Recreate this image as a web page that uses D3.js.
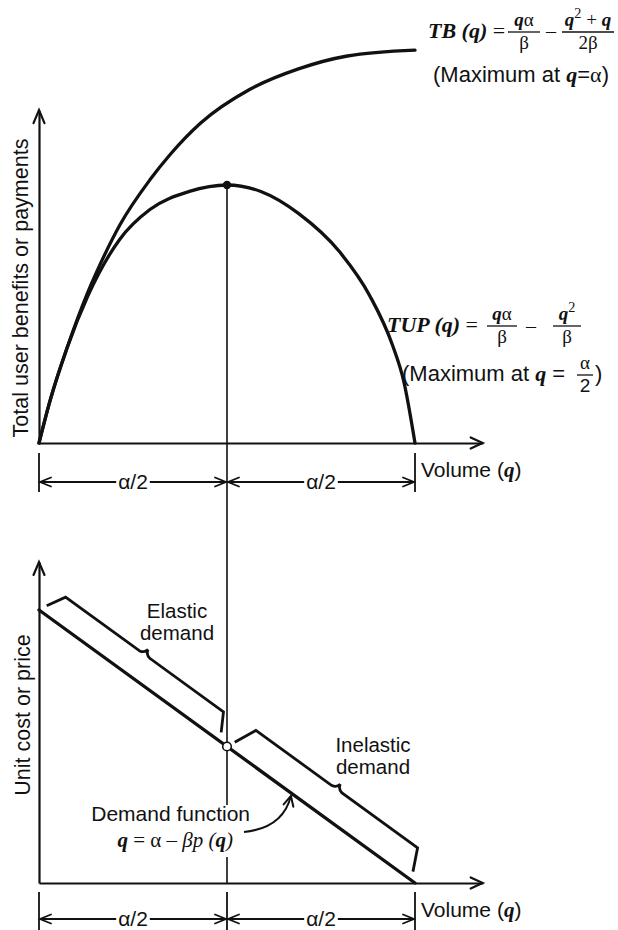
<!DOCTYPE html>
<html>
<head>
<meta charset="utf-8">
<script src="https://cdn.jsdelivr.net/npm/d3@7"></script>
<style>
  html, body { margin: 0; padding: 0; background: #fff; }
  svg { display: block; }
  .sans { font-family: "Liberation Sans", Arial, Helvetica, sans-serif; }
  .serif { font-family: "Liberation Serif", "Times New Roman", serif; }
  .bi { font-family: "Liberation Serif", "Times New Roman", serif; font-weight: bold; font-style: italic; }
  .it { font-family: "Liberation Serif", "Times New Roman", serif; font-style: italic; }
</style>
</head>
<body>
<svg id="chart" width="618" height="930"></svg>
<script>
// Volume q in units of α; benefits/payments scaled so that TUP peaks at 1.
const tupQ = [0, 0.03, 0.075, 0.13, 0.215, 0.295, 0.40, 0.50, 0.59, 0.69, 0.80, 0.88, 0.94, 0.97, 1.0];
const tupV = [0, 0.167, 0.37, 0.57, 0.79, 0.905, 0.975, 1.0, 0.975, 0.89, 0.74, 0.57, 0.38, 0.24, 0];
const tbQ = [0, 0.03, 0.075, 0.13, 0.165, 0.215, 0.295, 0.35, 0.43, 0.56, 0.69, 0.82, 1.0];
const tbV = [0, 0.167, 0.37, 0.585, 0.70, 0.845, 1.02, 1.12, 1.24, 1.37, 1.45, 1.50, 1.523];
// Demand function: unit price (1 at q = 0) against volume
const demandQ = [0, 1];
const demandP = [1, 0];
const peakQ = 0.5;                 // α/2
const dimQ = [0, 0.5, 1];          // dimension breakpoints 0, α/2, α
const dimLabels = ["α/2", "α/2"];
const elasticRange = [0.008, 0.472];
const inelasticRange = [0.508, 0.982];
const axisLabelTop = "Total user benefits or payments";
const axisLabelBottom = "Unit cost or price";
const xAxisLabel = "Volume";

const svg = d3.select("#chart");
const ink = "#111";

const x = d3.scaleLinear().domain([0, 1]).range([39, 415]);
const xMax = 1.18;
const yTop = d3.scaleLinear().domain([0, 1]).range([443, 185]);
const yTopMax = 1.29;
const yBot = d3.scaleLinear().domain([0, 1]).range([883, 610]);
const yBotMax = 1.176;

// open chevron arrowhead with its tip at (tx, ty) pointing along (dx, dy)
function chevron(g, tx, ty, dx, dy, len, half, sw) {
  const m = Math.hypot(dx, dy), ux = dx / m, uy = dy / m;
  const bx = tx - ux * len, by = ty - uy * len;
  g.append("path")
    .attr("d", `M${bx - uy * half},${by + ux * half}L${tx},${ty}L${bx + uy * half},${by - ux * half}`)
    .attr("fill", "none").attr("stroke", ink).attr("stroke-width", sw)
    .attr("stroke-linejoin", "miter").attr("stroke-linecap", "round");
}

function axes(yScale, yMaxVal) {
  const g = svg.append("g");
  const xs = d3.scaleLinear().domain([0, xMax]).range([x(0), x(xMax)]);
  g.append("g").attr("transform", `translate(0,${yScale(0)})`)
    .call(d3.axisBottom(xs).tickValues([]).tickSizeOuter(0))
    .select(".domain").attr("stroke", ink).attr("stroke-width", 2.2);
  const ys = d3.scaleLinear().domain([0, yMaxVal]).range([yScale(0), yScale(yMaxVal)]);
  g.append("g").attr("transform", `translate(${x(0)},0)`)
    .call(d3.axisLeft(ys).tickValues([]).tickSizeOuter(0))
    .select(".domain").attr("stroke", ink).attr("stroke-width", 2.2);
  chevron(g, x(xMax), yScale(0), 1, 0, 12, 5.5, 2.2);
  chevron(g, x(0), yScale(yMaxVal), 0, -1, 13, 5.5, 2.2);
}

axes(yTop, yTopMax);
axes(yBot, yBotMax);

// ---------- upper panel: TB and TUP curves ----------
const curveTop = d3.line().x(d => x(d[0])).y(d => yTop(d[1])).curve(d3.curveMonotoneX);
svg.append("path").datum(d3.zip(tbQ, tbV)).attr("d", curveTop)
  .attr("fill", "none").attr("stroke", ink).attr("stroke-width", 3.3).attr("stroke-linecap", "round");
svg.append("path").datum(d3.zip(tupQ, tupV)).attr("d", curveTop)
  .attr("fill", "none").attr("stroke", ink).attr("stroke-width", 3.3).attr("stroke-linecap", "round");

const peakV = tupV[tupQ.indexOf(peakQ)];
// guide line down from the TUP maximum through the lower panel
svg.append("line").attr("x1", x(peakQ)).attr("x2", x(peakQ))
  .attr("y1", yTop(peakV)).attr("y2", 805).attr("stroke", ink).attr("stroke-width", 1.6);
svg.append("line").attr("x1", x(peakQ)).attr("x2", x(peakQ))
  .attr("y1", 857).attr("y2", yBot(0)).attr("stroke", ink).attr("stroke-width", 1.6);
svg.append("circle").attr("cx", x(peakQ)).attr("cy", yTop(peakV)).attr("r", 4.2).attr("fill", ink);

// ---------- lower panel: demand line ----------
const demandLine = d3.line().x(d => x(d[0])).y(d => yBot(d[1]));
svg.append("path").datum(d3.zip(demandQ, demandP)).attr("d", demandLine)
  .attr("fill", "none").attr("stroke", ink).attr("stroke-width", 3.3).attr("stroke-linecap", "round");

// point on (or offset perpendicular from) the demand line
const P0 = [x(demandQ[0]), yBot(demandP[0])], P1 = [x(demandQ[1]), yBot(demandP[1])];
const dLen = Math.hypot(P1[0] - P0[0], P1[1] - P0[1]);
const u = [(P1[0] - P0[0]) / dLen, (P1[1] - P0[1]) / dLen];
const nrm = [u[1], -u[0]];
function onDemand(q, off) {
  return [P0[0] + u[0] * dLen * q + nrm[0] * off, P0[1] + u[1] * dLen * q + nrm[1] * off];
}
function bracket(range, off) {
  const [q0, q1] = range, qm = (q0 + q1) / 2, e = 0.022;
  const p = (q, o) => onDemand(q, o).join(",");
  const d = `M${p(q0, 8)}L${p(q0 + e, off)}L${p(qm - 0.014, off)}` +
    `Q${p(qm - 0.002, off + 1)} ${p(qm, off + 6)}` +
    `Q${p(qm + 0.002, off + 1)} ${p(qm + 0.014, off)}` +
    `L${p(q1 - e, off)}L${p(q1, 8)}`;
  svg.append("path").attr("d", d).attr("fill", "none").attr("stroke", ink)
    .attr("stroke-width", 2.8).attr("stroke-linejoin", "miter");
}
bracket(elasticRange, 26);
bracket(inelasticRange, 30);

svg.append("circle").attr("cx", x(peakQ)).attr("cy", yBot(d3.interpolateNumber(demandP[0], demandP[1])(peakQ)))
  .attr("r", 4.3).attr("fill", "#fff").attr("stroke", ink).attr("stroke-width", 1.6);

// curved pointer from the demand-function label to the line
const tipPt = onDemand(0.67, 0);
const ctrl = [tipPt[0] - 8, tipPt[1] + 35];
svg.append("path").attr("d", `M244,832Q${ctrl[0]},${ctrl[1]} ${tipPt[0]},${tipPt[1] + 3}`)
  .attr("fill", "none").attr("stroke", ink).attr("stroke-width", 2);
chevron(svg, tipPt[0], tipPt[1] + 3, tipPt[0] - ctrl[0], tipPt[1] + 3 - ctrl[1], 10, 5, 2);

// ---------- dimension lines ----------
function dimension(yLine, tickTop, tickBot) {
  const g = svg.append("g");
  dimQ.forEach((q, i) => {
    if (i === 1 && tickTop < yTop(0) + 20) return; // the guide line already crosses here
    g.append("line").attr("x1", x(q)).attr("x2", x(q)).attr("y1", tickTop).attr("y2", tickBot)
      .attr("stroke", ink).attr("stroke-width", 1.8);
  });
  for (let i = 0; i < dimQ.length - 1; i++) {
    const a = x(dimQ[i]), b = x(dimQ[i + 1]), c = (a + b) / 2;
    const t = g.append("text").attr("class", "sans").attr("x", c).attr("y", yLine + 7)
      .attr("text-anchor", "middle").attr("font-size", 21).attr("fill", ink).text(dimLabels[i]);
    const w = t.node().getComputedTextLength() / 2 + 2;
    g.append("line").attr("x1", a + 1).attr("x2", c - w).attr("y1", yLine).attr("y2", yLine)
      .attr("stroke", ink).attr("stroke-width", 1.8);
    g.append("line").attr("x1", c + w).attr("x2", b - 1).attr("y1", yLine).attr("y2", yLine)
      .attr("stroke", ink).attr("stroke-width", 1.8);
    chevron(g, a + 1, yLine, -1, 0, 11, 4.5, 1.8);
    chevron(g, b - 1, yLine, 1, 0, 11, 4.5, 1.8);
  }
}
dimension(482, 453, 492);
dimension(919, 892, 930);

// ---------- text ----------
function volumeLabel(yb) {
  const t = svg.append("text").attr("x", 421).attr("y", yb).attr("font-size", 21).attr("fill", ink);
  t.append("tspan").attr("class", "sans").text(xAxisLabel + " (");
  t.append("tspan").attr("class", "bi").text("q");
  t.append("tspan").attr("class", "sans").text(")");
}
volumeLabel(477);
volumeLabel(917);

svg.append("text").attr("class", "sans").attr("transform", "translate(28,288) rotate(-90)")
  .attr("text-anchor", "middle").attr("font-size", 21.5).attr("fill", ink).text(axisLabelTop);
svg.append("text").attr("class", "sans").attr("transform", "translate(30,715) rotate(-90)")
  .attr("text-anchor", "middle").attr("font-size", 21.5).attr("fill", ink).text(axisLabelBottom);

function twoLine(cx, yb, lines, gap) {
  lines.forEach((s, i) => svg.append("text").attr("class", "sans").attr("x", cx).attr("y", yb + i * gap)
    .attr("text-anchor", "middle").attr("font-size", 20.5).attr("fill", ink).text(s));
}
twoLine(177, 618, ["Elastic", "demand"], 22);
twoLine(373, 752, ["Inelastic", "demand"], 22);

// demand function label
svg.append("text").attr("class", "sans").attr("x", 250).attr("y", 821).attr("text-anchor", "end")
  .attr("font-size", 21).attr("fill", ink).text("Demand function");
{
  const t = svg.append("text").attr("x", 233).attr("y", 847).attr("text-anchor", "end")
    .attr("font-size", 21).attr("fill", ink);
  t.append("tspan").attr("class", "bi").text("q");
  t.append("tspan").attr("class", "serif").text(" = α – ");
  t.append("tspan").attr("class", "it").text("βp");
  t.append("tspan").attr("class", "it").text(" (");
  t.append("tspan").attr("class", "bi").text("q");
  t.append("tspan").attr("class", "it").text(")");
}

// fraction: numerator pieces, denominator pieces, bar at yBar
function frac(cx, yBar, halfW, num, den, size) {
  const n = svg.append("text").attr("x", cx).attr("y", yBar - 6).attr("text-anchor", "middle")
    .attr("font-size", size).attr("fill", ink);
  num.forEach(p => {
    const s = n.append("tspan").attr("class", p[1]).text(p[0]);
    if (p[2]) s.attr("dy", p[2]);
    if (p[3]) s.attr("font-size", size * p[3]);
  });
  svg.append("line").attr("x1", cx - halfW).attr("x2", cx + halfW).attr("y1", yBar).attr("y2", yBar)
    .attr("stroke", ink).attr("stroke-width", 1.3);
  const d = svg.append("text").attr("x", cx).attr("y", yBar + 17).attr("text-anchor", "middle")
    .attr("font-size", size).attr("fill", ink);
  den.forEach(p => d.append("tspan").attr("class", p[1]).text(p[0]));
}

// TB(q) formula
{
  const t = svg.append("text").attr("x", 428).attr("y", 38).attr("font-size", 22).attr("fill", ink);
  t.append("tspan").attr("class", "bi").text("TB (q)");
  t.append("tspan").attr("class", "serif").text(" =");
  frac(524, 32, 16, [["q", "bi"], ["α", "serif"]], [["β", "serif"]], 19);
  svg.append("text").attr("class", "serif").attr("x", 551).attr("y", 38).attr("text-anchor", "middle")
    .attr("font-size", 20).attr("fill", ink).text("–");
  frac(588, 32, 26, [["q", "bi"], ["2", "serif", -8, 0.75], [" + ", "serif", 8], ["q", "bi"]], [["2β", "serif"]], 19);
  const m = svg.append("text").attr("x", 433).attr("y", 82).attr("font-size", 22).attr("fill", ink);
  m.append("tspan").attr("class", "sans").text("(Maximum at ");
  m.append("tspan").attr("class", "bi").text("q");
  m.append("tspan").attr("class", "sans").text("=");
  m.append("tspan").attr("class", "serif").text("α");
  m.append("tspan").attr("class", "sans").text(")");
}

// TUP(q) formula
{
  const t = svg.append("text").attr("x", 387).attr("y", 332).attr("font-size", 22).attr("fill", ink);
  t.append("tspan").attr("class", "bi").text("TUP (q)");
  t.append("tspan").attr("class", "serif").text(" =");
  frac(502, 326, 15, [["q", "bi"], ["α", "serif"]], [["β", "serif"]], 19);
  svg.append("text").attr("class", "serif").attr("x", 531).attr("y", 333).attr("text-anchor", "middle")
    .attr("font-size", 20).attr("fill", ink).text("–");
  frac(567, 326, 14, [["q", "bi"], ["2", "serif", -8, 0.75]], [["β", "serif"]], 19);
  const m = svg.append("text").attr("x", 402).attr("y", 381).attr("font-size", 22).attr("fill", ink);
  m.append("tspan").attr("class", "sans").text("(Maximum at ");
  m.append("tspan").attr("class", "bi").text("q");
  m.append("tspan").attr("class", "sans").text(" =");
  frac(585, 375, 8, [["α", "serif"]], [["2", "sans"]], 19);
  svg.append("text").attr("class", "sans").attr("x", 595).attr("y", 381).attr("font-size", 22)
    .attr("fill", ink).text(")");
}
</script>
</body>
</html>
